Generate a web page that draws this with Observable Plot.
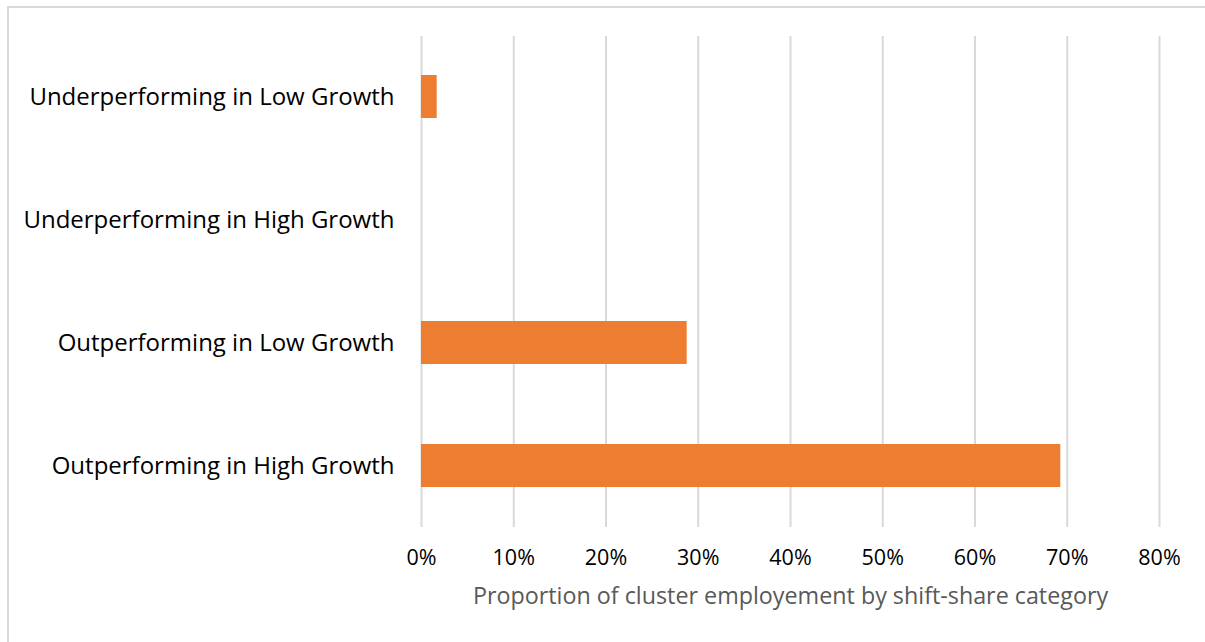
<!DOCTYPE html>
<html>
<head>
<meta charset="utf-8">
<script src="https://cdn.jsdelivr.net/npm/d3@7"></script>
<script src="https://cdn.jsdelivr.net/npm/@observablehq/plot@0.6"></script>
<style>
  html, body { margin: 0; padding: 0; background: #fff; }
  #wrap { position: relative; width: 1205px; height: 642px; overflow: hidden; }
  #border { position: absolute; left: 7px; top: 6px; width: 1210px; height: 650px; border: 2px solid #d9d9d9; box-sizing: border-box; pointer-events: none; }
</style>
</head>
<body>
<div id="wrap"><div id="border"></div></div>
<script>
const categories = [
  "Underperforming in Low Growth",
  "Underperforming in High Growth",
  "Outperforming in Low Growth",
  "Outperforming in High Growth"
];
const values = [0.017, 0, 0.288, 0.693];
const xTicks = [0, 0.1, 0.2, 0.3, 0.4, 0.5, 0.6, 0.7, 0.8];
const xTitle = "Proportion of cluster employement by shift-share category";

const data = categories.map((c, i) => ({category: c, value: values[i]}));

const chart = Plot.plot({
  width: 1205,
  height: 642,
  marginLeft: 421,
  marginRight: 46,
  marginTop: 36,
  marginBottom: 115,
  style: {fontFamily: "'Open Sans', sans-serif", background: "transparent", overflow: "visible"},
  x: {domain: [0, 0.8], ticks: xTicks, tickFormat: d => Math.round(d * 100) + "%"},
  y: {domain: categories, paddingInner: 0.65, paddingOuter: 0.32, label: null},
  marks: [
    Plot.gridX(xTicks, {stroke: "#d9d9d9", strokeOpacity: 1, strokeWidth: 2}),
    Plot.barX(data, {x: "value", y: "category", fill: "#ed7d31"}),
    Plot.axisX(xTicks, {tickSize: 0, tickPadding: 22, fontSize: 21.5, fill: "#000", label: null, tickFormat: d => Math.round(d * 100) + "%"}),
    Plot.axisY({tickSize: 0, tickPadding: 27, fontSize: 24, fill: "#000", label: null}),
    Plot.text([xTitle], {frameAnchor: "bottom", dy: 76, fontSize: 23.3, fill: "#595959", text: d => d})
  ]
});
document.getElementById("wrap").prepend(chart);
</script>
</body>
</html>
